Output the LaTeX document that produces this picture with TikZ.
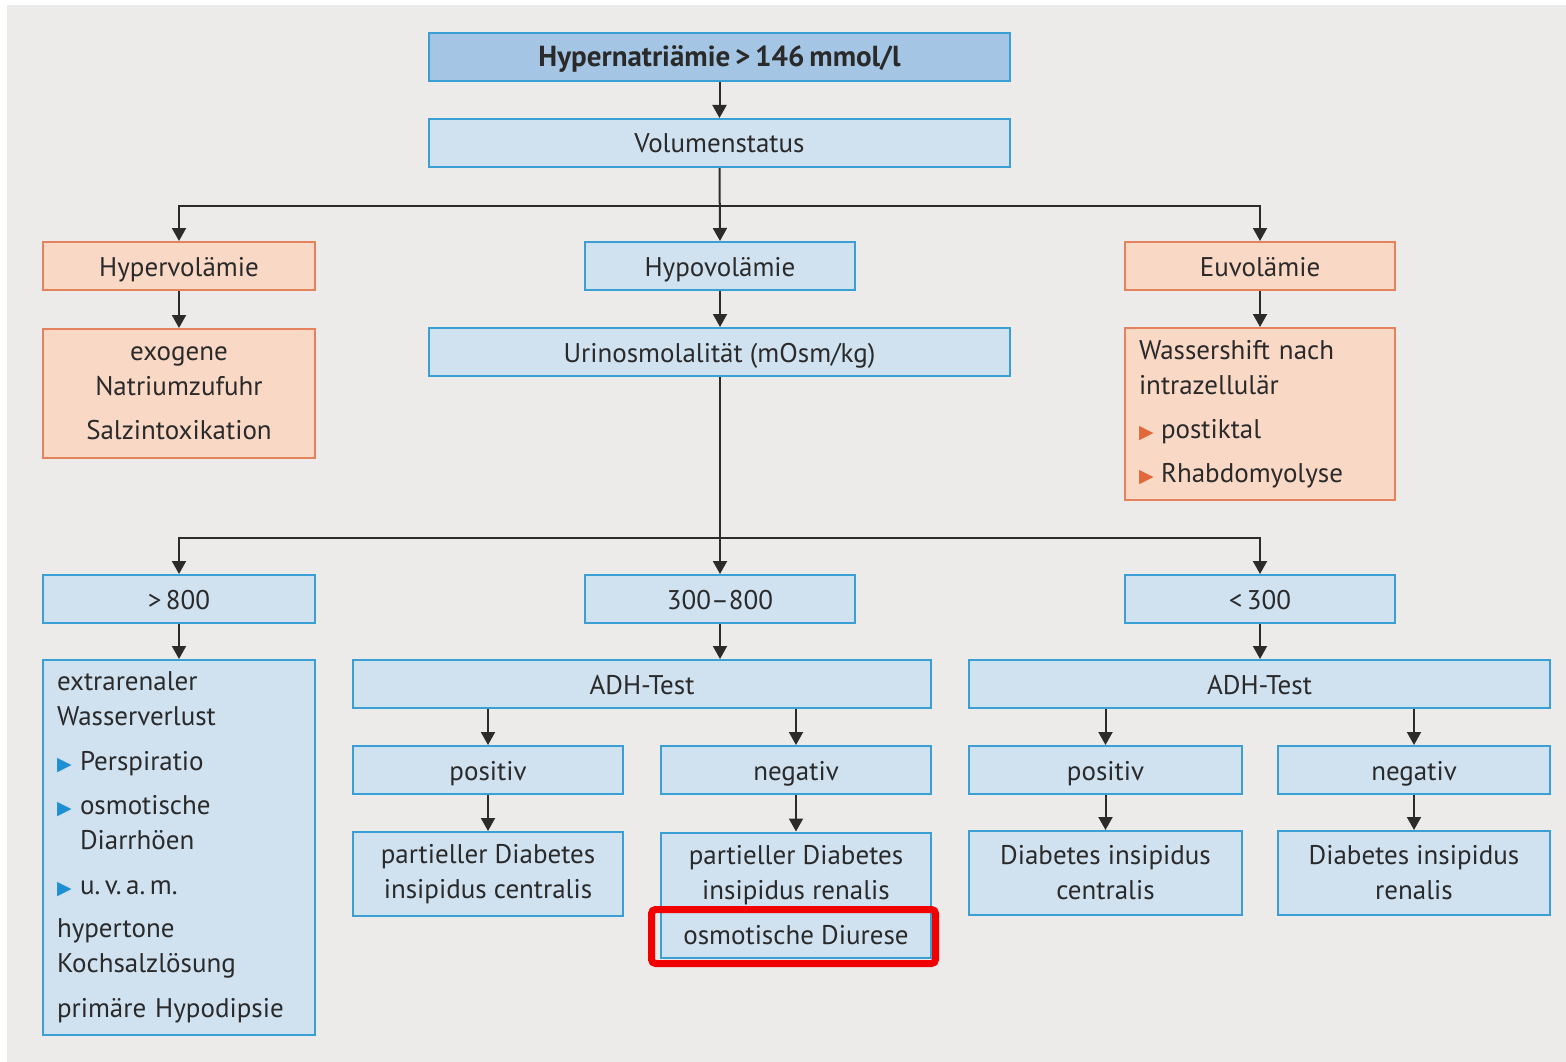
\documentclass[tikz,border=0pt]{standalone}
\usepackage{fontspec}
\setmainfont{PT Sans}
\newfontfamily\symfont{DejaVu Sans}
\usetikzlibrary{arrows.meta}
\definecolor{bgc}{HTML}{ECEBE9}
\definecolor{bfill}{HTML}{D0E1F0}
\definecolor{bfilld}{HTML}{A4C6E4}
\definecolor{bbord}{HTML}{3A9FD5}
\definecolor{sfill}{HTML}{F9D8C6}
\definecolor{sbord}{HTML}{E3825C}
\definecolor{txt}{HTML}{2A2A2A}
\definecolor{arrc}{HTML}{2B2B2B}
\definecolor{bulb}{HTML}{1E8FD2}
\definecolor{bulo}{HTML}{E0683A}
\definecolor{hlred}{HTML}{F20000}
\newcommand\bul[2]{\makebox[#2][l]{\raisebox{0pt}{\textcolor{#1}{\symfont\fontsize{19}{19}\selectfont ▶}}}}
\tikzset{
  box/.style={draw=bbord, fill=bfill, line width=2pt, inner sep=0pt, text=txt,
    font=\fontsize{27}{35}\selectfont, align=center},
  sbox/.style={box, draw=sbord, fill=sfill},
  one/.style={text height=26pt, text depth=6pt},
  arr/.style={draw=arrc, line width=2pt, -{Triangle[length=13pt,width=14pt]}},
}
\begin{document}
\begin{tikzpicture}[x=1pt,y=-1pt]
\useasboundingbox (0,0) rectangle (1566,1062);
\fill[white] (0,0) rectangle (1566,1062);
\fill[bgc] (7,5) rectangle (1566,1062);

\node[box, one, fill=bfilld, minimum width=581, minimum height=48, font=\fontsize{29}{35}\selectfont\bfseries] (top) at (719.5,57) {Hypernatriämie\,>\,146\,mmol/l};
\node[box, one, minimum width=581, minimum height=48] (vol) at (719.5,143) {Volumenstatus};

\node[sbox, one, minimum width=272, minimum height=48] (hyper) at (179,266) {Hypervolämie};
\node[box, one, minimum width=270, minimum height=48] (hypo) at (720,266) {Hypovolämie};
\node[sbox, one, minimum width=270, minimum height=48] (eu) at (1260,266) {Euvolämie};

\node[sbox, minimum width=272, minimum height=129] (exo) at (179,393.5) {exogene\\Natriumzufuhr\\[9pt]Salzintoxikation};
\node[box, one, minimum width=581, minimum height=48] (urin) at (719.5,352) {Urinosmolalität (mOsm/kg)};
\node[sbox, minimum width=270, minimum height=172, align=left, text width=242, inner xsep=14pt] (wsh) at (1260,414)
  {Wassershift nach\\intrazellulär\\[9pt]\bul{bulo}{22pt}postiktal\\[9pt]\bul{bulo}{22pt}Rhabdomyolyse};

\node[box, one, minimum width=272, minimum height=48] (g800) at (179,599) {>\,800};
\node[box, one, minimum width=270, minimum height=48] (m300) at (720,599) {300–800};
\node[box, one, minimum width=270, minimum height=48] (l300) at (1260,599) {<\,300};

\node[box, minimum width=272, minimum height=375, align=left, text width=244, inner xsep=14pt] (ext) at (179,847.5)
  {extrarenaler\\Wasserverlust\\[10pt]
   \bul{bulb}{23pt}Perspiratio\\[9pt]
   \bul{bulb}{23pt}osmotische\\\hspace*{23pt}Diarrhöen\\[10pt]
   \bul{bulb}{23pt}u.\,v.\,a.\,m.\\[8pt]
   hypertone\\Kochsalzlösung\\[10pt]
   primäre Hypodipsie};

\node[box, one, minimum width=578, minimum height=48] (adh1) at (642,684) {ADH-Test};
\node[box, one, minimum width=581, minimum height=48] (adh2) at (1259.5,684) {ADH-Test};

\node[box, one, minimum width=270, minimum height=48] (pos1) at (488,770) {positiv};
\node[box, one, minimum width=270, minimum height=48] (neg1) at (796,770) {negativ};
\node[box, one, minimum width=273, minimum height=48] (pos2) at (1105.5,770) {positiv};
\node[box, one, minimum width=272, minimum height=48] (neg2) at (1414,770) {negativ};

\node[box, minimum width=270, minimum height=84] (pdc) at (488,874) {partieller Diabetes\\insipidus centralis};
\node[box, minimum width=270, minimum height=125] (pdr) at (796,895) {partieller Diabetes\\insipidus renalis\\[10pt]osmotische Diurese};
\node[box, minimum width=273, minimum height=84] (dic) at (1105.5,873) {Diabetes insipidus\\centralis};
\node[box, minimum width=272, minimum height=84] (dir) at (1414,873) {Diabetes insipidus\\renalis};

\node[draw=hlred, line width=7pt, rounded corners=4pt, minimum width=284, minimum height=54, inner sep=0pt] (hl) at (793.5,936.5) {};

% connectors
\coordinate (j1) at (720,206);
\coordinate (j2) at (720,538);
\draw[arr] (top.south) -- (vol.north);
\draw[arr] (vol.south) -- (hypo.north);
\draw[arr] (j1) -| (hyper.north);
\draw[arr] (j1) -| (eu.north);
\draw[arr] (hyper.south) -- (exo.north);
\draw[arr] (hypo.south) -- (hypo.south |- urin.north);
\draw[arr] (eu.south) -- (wsh.north);
\draw[arr] (hypo.south |- urin.south) -- (m300.north);
\draw[arr] (j2) -| (g800.north);
\draw[arr] (j2) -| (l300.north);
\draw[arr] (g800.south) -- (ext.north);
\draw[arr] (m300.south) -- (m300.south |- adh1.north);
\draw[arr] (l300.south) -- (l300.south |- adh2.north);
\draw[arr] (adh1.south -| pos1.north) -- (pos1.north);
\draw[arr] (adh1.south -| neg1.north) -- (neg1.north);
\draw[arr] (adh2.south -| pos2.north) -- (pos2.north);
\draw[arr] (adh2.south -| neg2.north) -- (neg2.north);
\draw[arr] (pos1.south) -- (pdc.north);
\draw[arr] (neg1.south) -- (pdr.north);
\draw[arr] (pos2.south) -- (dic.north);
\draw[arr] (neg2.south) -- (dir.north);
\end{tikzpicture}
\end{document}
